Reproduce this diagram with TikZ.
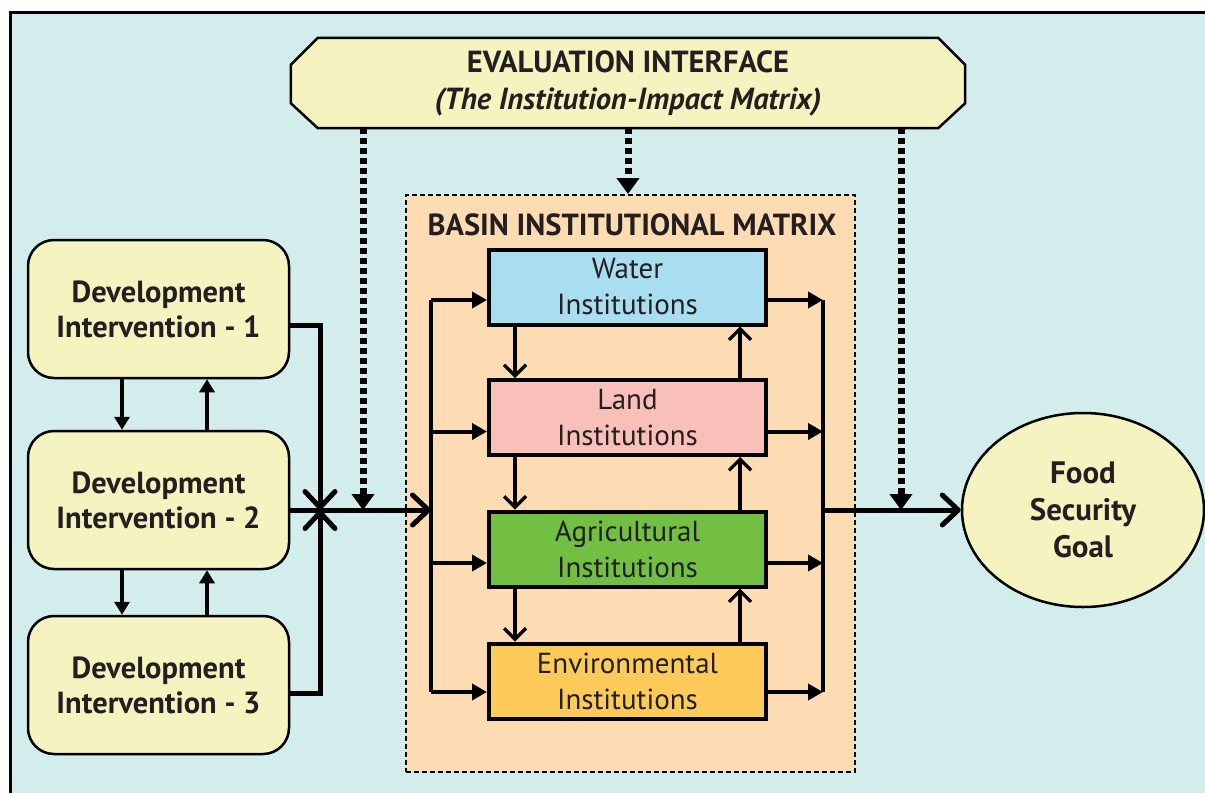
\documentclass[tikz,border=0pt]{standalone}
\usepackage{fontspec}
\setmainfont{PT Sans}
\usetikzlibrary{arrows.meta,calc,shapes.geometric}
\definecolor{bg}{HTML}{D3ECEC}
\definecolor{cream}{HTML}{F5F4C1}
\definecolor{peach}{HTML}{FDDCB3}
\definecolor{waterc}{HTML}{A9DDF0}
\definecolor{landc}{HTML}{F9C0BA}
\definecolor{agric}{HTML}{72BF44}
\definecolor{envc}{HTML}{FECB5A}
\definecolor{ink}{HTML}{231F20}
\tikzset{
  devbox/.style={draw=black, line width=2.5pt, fill=cream, rounded corners=26pt,
    minimum width=261pt, minimum height=138pt, align=center, text=ink, inner sep=0pt,
    font=\bfseries\fontsize{30.5}{35}\selectfont},
  inst/.style={draw=black, line width=4pt, minimum width=277pt, minimum height=75pt,
    align=center, text=ink, inner sep=0pt, font=\fontsize{29}{36}\selectfont},
  fillarrow/.style={line width=4pt, -{Triangle[length=15pt,width=16pt]}},
  thinbarb/.style={line width=3.2pt, -{Straight Barb[length=11pt,width=22pt]}},
  bigbarb/.style={line width=5pt, -{Straight Barb[length=16pt,width=30pt,round]}},
  busline/.style={line width=4pt},
  dotline/.style={line width=7pt, dash pattern=on 6pt off 4pt,
    -{Triangle[length=16pt,width=22pt]}},
}
\begin{document}
\begin{tikzpicture}[x=1pt,y=-1pt]
\useasboundingbox (0,0) rectangle (1205,793);
\fill[white] (0,0) rectangle (1205,793);
\fill[bg] (10,12) rectangle (1205,793);
\draw[line width=3pt] (10,793) -- (10,12) -- (1205,12);

% evaluation interface
\node (ev) [minimum width=674pt, minimum height=90pt, inner sep=0pt] at (628,83) {};
\draw[line width=2.5pt, fill=cream]
  ($(ev.north west)+(27,0)$) -- ($(ev.north east)+(-27,0)$) -- ($(ev.north east)+(0,27)$)
  -- ($(ev.south east)+(0,-25)$) -- ($(ev.south east)+(-27,0)$) -- ($(ev.south west)+(27,0)$)
  -- ($(ev.south west)+(0,-25)$) -- ($(ev.north west)+(0,27)$) -- cycle;
\node (evt) [align=center, text=ink, font=\bfseries\fontsize{30.5}{37}\selectfont] at (ev.center)
  {EVALUATION INTERFACE\\\itshape (The Institution-Impact Matrix)};

% basin
\node (basin) [draw=black, line width=2pt, dash pattern=on 5pt off 3pt, fill=peach,
  minimum width=449pt, minimum height=577pt, inner sep=0pt] at (630.5,483.5) {};
\node (btitle) [text=ink, font=\bfseries\fontsize{30.5}{30}\selectfont] at (632,225)
  {BASIN INSTITUTIONAL MATRIX};

\node (water) [inst, fill=waterc] at (627.5,287) {Water\\Institutions};
\node (land)  [inst, fill=landc]  at (627.5,417.5) {Land\\Institutions};
\node (agri)  [inst, fill=agric]  at (627.5,549) {Agricultural\\Institutions};
\node (env)   [inst, fill=envc]   at (627.5,681) {Environmental\\Institutions};

% dev boxes
\node (dev1) [devbox] at (158.5,309) {Development\\Intervention - 1};
\node (dev2) [devbox] at (158.5,500) {Development\\Intervention - 2};
\node (dev3) [devbox] at (158.5,685) {Development\\Intervention - 3};

% food
\node (food) [ellipse, draw=black, line width=2.5pt, fill=cream, minimum width=242pt,
  minimum height=194pt, inner sep=0pt, align=center, text=ink,
  font=\bfseries\fontsize{31}{37}\selectfont] at (1083,510) {Food\\Security\\Goal};

% coordinates
\coordinate (J) at (320,510);
\coordinate (lb) at (431,510);
\coordinate (rb) at (823,510);
\coordinate (d1) at (363,510);
\coordinate (d3) at (901,510);

% dev vertical arrows
\draw[line width=4pt, -{Triangle[length=13pt,width=15pt]}] (dev1.south -| 122,0) -- (dev2.north -| 122,0);
\draw[line width=4pt, -{Triangle[length=13pt,width=15pt]}] (dev2.north -| 207,0) -- (dev1.south -| 207,0);
\draw[line width=4pt, -{Triangle[length=13pt,width=15pt]}] (dev2.south -| 122,0) -- (dev3.north -| 122,0);
\draw[line width=4pt, -{Triangle[length=13pt,width=15pt]}] (dev3.north -| 207,0) -- (dev2.south -| 207,0);

% dev connectors
\draw[bigbarb] ($(dev1.east)+(0,16)$) -| (J);
\draw[bigbarb] ($(dev3.east)+(0,8)$) -| (J);
\draw[bigbarb] ($(dev2.east)+(0,10)$) -- (lb);

% buses
\coordinate (wl) at ($(water.west)+(0,13)$);
\coordinate (ll) at ($(land.west)+(0,14)$);
\coordinate (al) at ($(agri.west)+(0,14)$);
\coordinate (el) at ($(env.west)+(0,11)$);
\coordinate (wr) at ($(water.east)+(0,13)$);
\coordinate (lr) at ($(land.east)+(0,14)$);
\coordinate (ar) at ($(agri.east)+(0,14)$);
\coordinate (er) at ($(env.east)+(0,11)$);
\draw[busline] (lb |- wl) -- (lb |- el);
\draw[busline] (rb |- wr) -- (rb |- er);
\foreach \p in {wl,ll,al,el} \draw[fillarrow] (lb |- \p) -- (\p);
\foreach \p in {wr,lr,ar,er} \draw[fillarrow] (\p) -- (rb |- \p);
\draw[bigbarb] (rb) -- (food.west);

% inter-box arrows
\draw[thinbarb] (water.south -| 515,0) -- (land.north -| 515,0);
\draw[thinbarb] (land.south -| 515,0) -- (agri.north -| 515,0);
\draw[thinbarb] (agri.south -| 515,0) -- (env.north -| 515,0);
\draw[thinbarb] (land.north -| 740,0) -- (water.south -| 740,0);
\draw[thinbarb] (agri.north -| 740,0) -- (land.south -| 740,0);
\draw[thinbarb] (env.north -| 740,0) -- (agri.south -| 740,0);

% dotted
\draw[dotline] (ev.south -| d1) -- (d1);
\draw[dotline] (ev.south -| d3) -- (d3);
\draw[dotline] (ev.south) -- (ev.south |- basin.north);
\end{tikzpicture}
\end{document}
